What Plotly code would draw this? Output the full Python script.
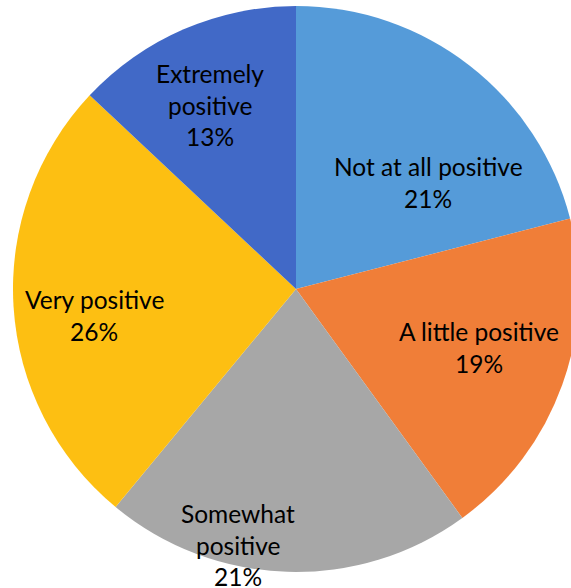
import plotly.graph_objects as go

# Survey responses, clockwise from 12 o'clock
categories = ["Not at all positive", "A little positive", "Somewhat positive",
              "Very positive", "Extremely positive"]
shares = [21, 19, 21, 26, 13]

# How each label is broken over lines inside its slice
label_lines = [
    ["Not at all positive"],
    ["A little positive"],
    ["Somewhat", "positive"],
    ["Very positive"],
    ["Extremely", "positive"],
]

colors = ["#559BD9", "#F07E38", "#A7A7A7", "#FDBF12", "#4169C7"]

W, H = 580, 588
# label block anchors: centre x and first-line baseline, in pixels
label_anchor = [(428, 175), (479, 340), (238, 522), (94, 308), (210, 82)]
LINE_GAP = 31.5
FONT = dict(family="Lato, 'Open Sans', sans-serif", size=24.5, color="#000000")

fig = go.Figure(go.Pie(
    labels=categories,
    values=shares,
    sort=False,
    direction="clockwise",
    rotation=0,
    marker=dict(colors=colors, line=dict(width=0)),
    textinfo="none",
    hoverinfo="label+percent",
    domain=dict(x=[13 / W, 579 / W], y=[16 / H, 582 / H]),
    showlegend=False,
))

annotations = []
for lines, share, (cx, by) in zip(label_lines, shares, label_anchor):
    for i, txt in enumerate(lines + [f"{share}%"]):
        base = by + i * LINE_GAP
        annotations.append(dict(
            text=txt, x=cx / W, y=1 - (base - 0.34 * FONT["size"]) / H,
            xref="paper", yref="paper", xanchor="center", yanchor="middle",
            showarrow=False, font=FONT,
        ))

fig.update_layout(
    width=W, height=H,
    margin=dict(l=0, r=0, t=0, b=0),
    paper_bgcolor="white", plot_bgcolor="white",
    annotations=annotations,
)

fig.write_html("out.html")
